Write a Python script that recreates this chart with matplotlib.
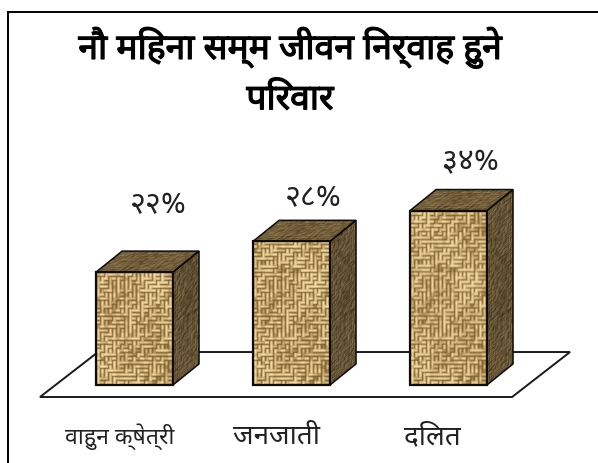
import re
import numpy as np
import matplotlib
matplotlib.use('Agg')
import matplotlib.pyplot as plt
import matplotlib.patheffects as pe
from matplotlib.patches import Polygon
from matplotlib.transforms import Affine2D

plt.rcParams['font.family'] = ['Noto Sans Devanagari', 'Noto Sans', 'DejaVu Sans']

# the data
categories = ['वाहुन क्षेत्री', 'जनजाती', 'दलित']
values = [22, 28, 34]
value_labels = ['२२%', '२८%', '३४%']
title_lines = ['नौ महिना सम्म जीवन निर्वाह हुने', 'परिवार']

# layout, x unit = one category, y unit = one percent
bar_w = 0.49
depth_x = 0.166
depth_y = 4.1
label_dx = [0.15, 0.137, 0.143]
label_dy = [9.0, 4.3, 5.4]
cat_dx = [-0.092, -0.096, -0.10]
cat_size = [16.5, 20, 20]


def visual_order(s):
    # matplotlib does no shaping, so the short i sign has to come before its consonant
    return re.sub('((?:[क-ह]्)*[क-ह])ि', 'ि\\1', s)


def cell_hash(i, j):
    v = np.sin(i * 12.9898 + j * 78.233) * 43758.5453
    return v - np.floor(v)


def soften(a):
    return (a * 2 + np.roll(a, 1, 0) + np.roll(a, -1, 0) + np.roll(a, 1, 1) + np.roll(a, -1, 1)) / 6


def weave(w, h, cell, low, mid, high):
    # woven cloth look, only a texture for the bar faces
    yy, xx = np.mgrid[0:h, 0:w]
    i = xx // cell
    j = yy // cell
    across = np.cos(np.pi * ((yy % cell) / cell - 0.5)) ** 2
    along = np.cos(np.pi * ((xx % cell) / cell - 0.5)) ** 2
    flip = cell_hash(i, j) > 0.5
    v = np.where(flip, across, along)
    v = v * (0.6 + 0.6 * cell_hash(j + 3, i + 7))
    blot = cell_hash(j + 11, i + 29)
    v = v * np.where(blot > 0.93, 0.5, 1.0)
    mottle = 0.5 + 0.25 * np.sin(xx / 9.0 + 1.0) * np.sin(yy / 13.0) + 0.25 * np.sin((xx + yy) / 21.0)
    v = soften(np.clip(v * (0.8 + 0.5 * mottle), 0, 1))
    low, mid, high = np.array(low), np.array(mid), np.array(high)
    t = v[..., None]
    img = np.where(t < 0.5, low + (mid - low) * t * 2, mid + (high - mid) * (t - 0.5) * 2)
    return img / 255.0


fig = plt.figure(figsize=(5.98, 4.63), dpi=100)
ax = fig.add_axes([0, 0, 1, 1])
xlim = (-134.5 / 157, (598 - 134.5) / 157)
ylim = ((385 - 463) / 5.13, 385 / 5.13)

# the floor
floor = Polygon([(-0.602, -2.34), (2.405, -2.34), (2.774, 6.43), (-0.232, 6.43)],
                closed=True, fc='white', ec='#1a1a1a', lw=1.4, zorder=1)
ax.add_patch(floor)

front_tex = weave(77, 175, 4, (120, 88, 42), (200, 170, 112), (250, 234, 184))
side_tex = weave(26, 175, 2, (45, 36, 20), (108, 88, 56), (160, 138, 98))
top_tex = weave(80, 21, 2, (60, 46, 24), (124, 102, 64), (176, 152, 108))

for k, val in enumerate(values):
    left = k - bar_w / 2
    right = k + bar_w / 2
    n = int(round(val * 5.13))

    front = [(left, 0), (right, 0), (right, val), (left, val)]
    side = [(right, 0), (right + depth_x, depth_y), (right + depth_x, val + depth_y), (right, val)]
    top = [(left, val), (right, val), (right + depth_x, val + depth_y), (left + depth_x, val + depth_y)]

    ax.imshow(front_tex[:n], extent=(left, right, 0, val), origin='lower',
              aspect='auto', interpolation='bilinear', zorder=3)
    im = ax.imshow(side_tex[:n], extent=(0, 1, 0, 1), origin='lower',
                   aspect='auto', interpolation='bilinear', zorder=3)
    im.set_transform(Affine2D.from_values(depth_x, depth_y, 0, val, right, 0) + ax.transData)
    im.set_clip_path(Polygon(side, closed=True, transform=ax.transData))
    im = ax.imshow(top_tex, extent=(0, 1, 0, 1), origin='lower',
                   aspect='auto', interpolation='bilinear', zorder=3)
    im.set_transform(Affine2D.from_values(bar_w, 0, depth_x, depth_y, left, val) + ax.transData)
    im.set_clip_path(Polygon(top, closed=True, transform=ax.transData))

    # outlines of the three faces
    for pts, lw in [(side, 1.1), (top, 1.1), (front, 1.6)]:
        ax.add_patch(Polygon(pts, closed=True, fc='none', ec='#0d0d0d', lw=lw, zorder=4))

    ax.text(k + label_dx[k], val + depth_y + label_dy[k], value_labels[k], ha='center', va='center',
            fontsize=22, color='#222222')
    ax.text(k + cat_dx[k], -10.1, visual_order(categories[k]), ha='center', va='center',
            fontsize=cat_size[k], color='#222222')

# the title, the installed font has no heavy cut so it gets a thin stroke
bold = [pe.withStroke(linewidth=0.9, foreground='black')]
ax.text(0.99, 65.8, visual_order(title_lines[0]), ha='center', va='center', fontsize=25.5,
        color='black', path_effects=bold)
ax.text(0.99, 55.5, visual_order(title_lines[1]), ha='center', va='center', fontsize=25.5,
        color='black', path_effects=bold)

ax.set_xlim(xlim)
ax.set_ylim(ylim)
ax.set_xticks([])
ax.set_yticks([])
for s in ['right', 'bottom', 'left', 'top']:
    ax.spines[s].set_visible(False)

# the frame of the slide, left and top only
ax.plot([-126.5 / 157, -126.5 / 157, xlim[1]], [ylim[0], (385 - 12) / 5.13, (385 - 12) / 5.13],
        color='black', lw=1.4, zorder=5, solid_joinstyle='miter')

fig.savefig('out.png', dpi=100)
